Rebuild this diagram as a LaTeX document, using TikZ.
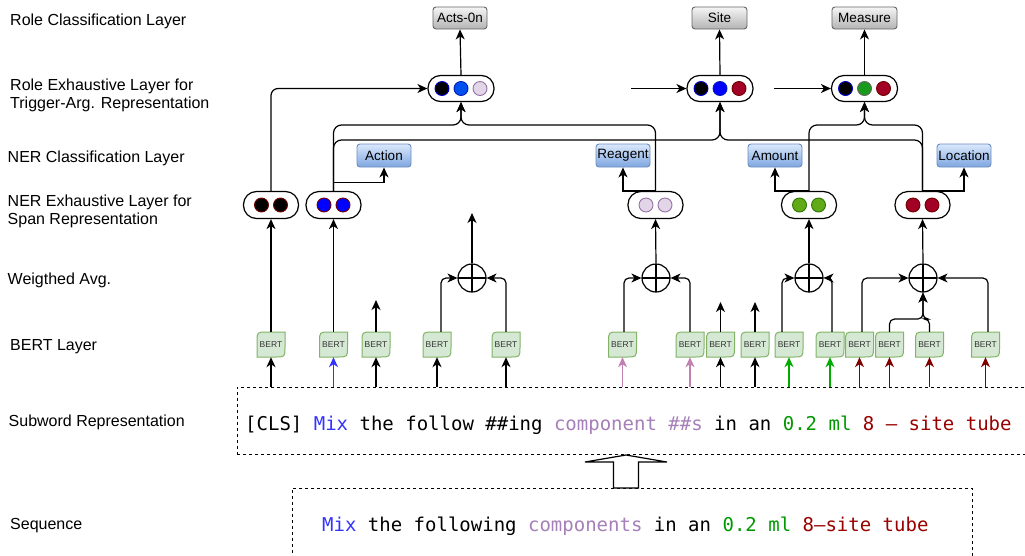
\documentclass[tikz,border=0pt]{standalone}
\usepackage{fontspec}
\setmainfont{Liberation Sans}
\newfontfamily\monofont{DejaVu Sans Mono}
\usetikzlibrary{arrows.meta,calc}
\definecolor{mixblue}{HTML}{3333FF}
\definecolor{comppurple}{HTML}{A680B8}
\definecolor{mlgreen}{HTML}{009900}
\definecolor{sitered}{HTML}{990000}
\definecolor{arrpink}{HTML}{C080B0}
\definecolor{arrgreen}{HTML}{00AA00}
\definecolor{arrred}{HTML}{800000}
\definecolor{bertfill}{HTML}{D5E8D4}
\definecolor{bertline}{HTML}{82B366}
\definecolor{berttxt}{HTML}{333333}
\definecolor{grayline}{HTML}{666666}
\definecolor{graytop}{HTML}{F5F5F5}
\definecolor{graybot}{HTML}{B3B3B3}
\definecolor{bluetop}{HTML}{DAE8FC}
\definecolor{bluebot}{HTML}{7EA6E0}
\definecolor{blueline}{HTML}{6C8EBF}
\definecolor{cblue}{HTML}{0050EF}
\definecolor{cbluel}{HTML}{001DBC}
\definecolor{cpur}{HTML}{E1D5E7}
\definecolor{cpurl}{HTML}{9673A6}
\definecolor{cred}{HTML}{A20025}
\definecolor{credl}{HTML}{6F0000}
\definecolor{cgreen}{HTML}{1A9A1A}
\definecolor{cgreenner}{HTML}{60A917}
\definecolor{cgreenl}{HTML}{2D7600}
\definecolor{cblk}{HTML}{0000CC}
\definecolor{nblue}{HTML}{0000FF}
\tikzset{
  arr/.style={-{Stealth[length=10pt,width=9pt,inset=3pt]}, line width=1.2pt},
  layerlbl/.style={anchor=base west, inner sep=0pt, font=\fontsize{16}{18}\selectfont},
  rolecls/.style={draw=grayline, line width=0.9pt, rounded corners=3pt, top color=graytop, bottom color=graybot, minimum height=22, inner sep=0pt, font=\fontsize{13.5}{15}\selectfont},
  nercls/.style={draw=blueline, line width=0.9pt, rounded corners=3pt, top color=bluetop, bottom color=bluebot, minimum width=54, minimum height=23, inner sep=0pt, font=\fontsize{13.5}{15}\selectfont},
  rolepill/.style={draw, line width=1.2pt, fill=white, rounded corners=12.5pt, minimum width=66, minimum height=26, inner sep=0pt},
  nerpill/.style={draw, line width=1.2pt, fill=white, rounded corners=13pt, minimum width=55, minimum height=27, inner sep=0pt},
  dot/.style={line width=0.9pt},
  oplus/.style={circle, draw, line width=1.2pt, minimum size=28, inner sep=0pt,
    path picture={\draw[line width=1.2pt] (path picture bounding box.north) -- (path picture bounding box.south) (path picture bounding box.west) -- (path picture bounding box.east);}},
  berttext/.style={minimum width=28, minimum height=25, inner sep=0pt, text=berttxt, font=\fontsize{8.5}{9}\selectfont},
  bertshape/.style={fill=bertfill, draw=bertline, line width=1pt},
  dbox/.style={draw, dash pattern=on 3pt off 3pt, line width=1pt, inner sep=0pt},
  mono/.style={anchor=base west, inner sep=0pt, font=\monofont\fontsize{19}{22}\selectfont}
}
\newcommand\bertbox[2]{%
  \draw[bertshape] (#2-14,357) -- (#2-14,342) .. controls (#2-14,332) .. (#2-4,332) -- (#2+14,332) -- (#2+14,347) .. controls (#2+14,357) .. (#2+4,357) -- cycle;
  \node[berttext] (#1) at (#2,344.5) {BERT};}
\begin{document}
\begin{tikzpicture}[x=1pt,y=-1pt]
\useasboundingbox[fill=white] (0,0) rectangle (1025,555);

% layer labels
\node[layerlbl] (l1) at (10,25.5) {Role Classification Layer};
\node[layerlbl] (l2a) at (10,90.5) {Role Exhaustive Layer for};
\node[layerlbl] (l2b) at (10,108.5) {Trigger-Arg. Representation};
\node[layerlbl] (l3) at (7.5,162) {NER Classification Layer};
\node[layerlbl] (l4a) at (7.5,206) {NER Exhaustive Layer for};
\node[layerlbl] (l4b) at (7.5,224.5) {Span Representation};
\node[layerlbl] (l5) at (7.5,284) {Weigthed Avg.};
\node[layerlbl] (l6) at (10,350) {BERT Layer};
\node[layerlbl] (l7) at (8.5,426.5) {Subword Representation};
\node[layerlbl] (l8) at (10,529) {Sequence};

% role classification boxes
\node[rolecls, minimum width=54] (acts) at (460,18) {Acts-0n};
\node[rolecls, minimum width=55] (site) at (719.5,18) {Site};
\node[rolecls, minimum width=65] (measure) at (864.5,18) {Measure};

% role pills
\node[rolepill] (r1) at (461,88.5) {};
\node[rolepill] (r2) at (720,88.5) {};
\node[rolepill] (r3) at (864.5,88.5) {};
\draw[dot, fill=black, draw=cblk] (442,88.5) circle (7);
\draw[dot, fill=cblue, draw=cbluel] (461,88.5) circle (7);
\draw[dot, fill=cpur, draw=cpurl] (480,88.5) circle (7);
\draw[dot, fill=black, draw=cblk] (701,88.5) circle (7);
\draw[dot, fill=nblue, draw=cbluel] (720,88.5) circle (7);
\draw[dot, fill=cred, draw=credl] (739,88.5) circle (7);
\draw[dot, fill=black, draw=cblk] (845.5,88.5) circle (7);
\draw[dot, fill=cgreen, draw=grayline] (864.5,88.5) circle (7);
\draw[dot, fill=cred, draw=credl] (883.5,88.5) circle (7);

% NER classification boxes
\node[nercls] (action) at (384,155.5) {Action};
\node[nercls] (reagent) at (623,155.5) {Reagent};
\node[nercls] (amount) at (775,155.5) {Amount};
\node[nercls] (location) at (964,155.5) {Location};

% NER pills
\node[nerpill] (n1) at (271,205) {};
\node[nerpill] (n2) at (333.5,205) {};
\node[nerpill] (n3) at (655.5,205) {};
\node[nerpill] (n4) at (809,205) {};
\node[nerpill] (n5) at (922.5,205) {};
\draw[dot, fill=black, draw=credl] (261.5,205) circle (7);
\draw[dot, fill=black, draw=credl] (280.5,205) circle (7);
\draw[dot, fill=nblue, draw=credl] (324,205) circle (7);
\draw[dot, fill=nblue, draw=credl] (343,205) circle (7);
\draw[dot, fill=cpur, draw=cpurl] (646,205) circle (7);
\draw[dot, fill=cpur, draw=cpurl] (665,205) circle (7);
\draw[dot, fill=cgreenner, draw=cgreenl] (799.5,205) circle (7);
\draw[dot, fill=cgreenner, draw=cgreenl] (818.5,205) circle (7);
\draw[dot, fill=cred, draw=credl] (913,205) circle (7);
\draw[dot, fill=cred, draw=credl] (932,205) circle (7);

% weighted average
\node[oplus] (o1) at (472,278) {};
\node[oplus] (o2) at (656,278) {};
\node[oplus] (o3) at (809,278) {};
\node[oplus] (o4) at (923,278) {};

% BERT boxes
\bertbox{b1}{271}
\bertbox{b2}{333.5}
\bertbox{b3}{376}
\bertbox{b4}{437}
\bertbox{b5}{506}
\bertbox{b6}{622.5}
\bertbox{b7}{690}
\bertbox{b8}{720.5}
\bertbox{b9}{755}
\bertbox{b10}{789}
\bertbox{b11}{830}
\bertbox{b12}{859.5}
\bertbox{b13}{889.5}
\bertbox{b14}{929.5}
\bertbox{b15}{985.5}

% dashed boxes
\node[dbox, minimum width=795, minimum height=67] (sub) at (634.5,420.5) {};
\node[dbox, minimum width=680, minimum height=72] (seq) at (632,524) {};
\node[mono] (subtxt) at (245,430) {[CLS] {\color{mixblue}Mix} the follow \#\#ing {\color{comppurple}component \#\#s} in an {\color{mlgreen}0.2 ml} {\color{sitered}8 – site tube}};
\node[mono] (seqtxt) at (322,531.5) {{\color{mixblue}Mix} the following {\color{comppurple}components} in an {\color{mlgreen}0.2 ml} {\color{sitered}8–site tube}};

% big hollow arrow
\draw[line width=1.2pt, fill=white] (613.5,488) -- (613.5,462) -- (585,462) -- (626,455) -- (667,462) -- (638.5,462) -- (638.5,488) -- cycle;

% role layer connectors
\draw[arr] (r1.north) -- (acts.south);
\draw[arr] (r2.north) -- (site.south);
\draw[arr] (r3.north) -- (measure.south);
\coordinate (f1) at (631,88.5);
\coordinate (f2) at (774,88.5);
\draw[arr] (f1) -- (r2.west);
\draw[arr] (f2) -- (r3.west);
\draw[arr, rounded corners=7pt] (n1.north) |- (r1.west);
\draw[arr, rounded corners=8pt] (n2.north) -- (333.5,125) -- (461,125) -- (r1.south);
\draw[arr, rounded corners=8pt] (n3.north) -- (655.5,125) -- (461,125) -- (r1.south);
\draw[arr, rounded corners=8pt] (n2.north) -- (333.5,140) -- (720,140) -- (r2.south);
\draw[arr, rounded corners=8pt] (n5.north) -- (922.5,140) -- (720,140) -- (r2.south);
\draw[arr, rounded corners=8pt] (n4.north) -- (809,125) -- (864.5,125) -- (r3.south);
\draw[arr, rounded corners=8pt] (n5.north) -- (922.5,125) -- (864.5,125) -- (r3.south);

% NER classification connectors
\draw[arr] ($(n2.north)+(0,-8.5)$) -| (action.south);
\draw[arr] (n3.north) -| (reagent.south);
\draw[arr] (n4.north) -| (amount.south);
\draw[arr] (n5.north) -| (location.south);

% weighted avg to NER
\coordinate (f3) at (472,213);
\draw[arr] (o1.north) -- (f3);
\draw[arr] (o2.north) -- (n3.south);
\draw[arr] (o3.north) -- (n4.south);
\draw[arr] (o4.north) -- (n5.south);

% BERT outputs
\draw[arr] (b1.north) -- (n1.south);
\draw[arr] (b2.north) -- (n2.south);
\coordinate (f4) at (376,300);
\coordinate (f5) at (720.5,302);
\coordinate (f6) at (755,302);
\draw[arr] (b3.north) -- (f4);
\draw[arr] (b8.north) -- (f5);
\draw[arr] (b9.north) -- (f6);
\draw[arr, rounded corners=5pt] ($(b4.north)+(4,0)$) |- (o1.west);
\draw[arr, rounded corners=5pt] (b5.north) |- (o1.east);
\draw[arr, rounded corners=5pt] ($(b6.north)+(1.5,0)$) |- (o2.west);
\draw[arr, rounded corners=5pt] (b7.north) |- (o2.east);
\draw[arr, rounded corners=5pt] ($(b10.north)+(-7,0)$) |- (o3.west);
\draw[arr, rounded corners=5pt] ($(b11.north)+(2,0)$) |- (o3.east);
\draw[arr, rounded corners=5pt] ($(b12.north)+(2.5,0)$) |- (o4.west);
\draw[arr, rounded corners=5pt] (b13.north) |- (923,319) -- (o4.south);
\draw[arr, rounded corners=5pt] (b14.north) |- (923,319) -- (o4.south);
\draw[arr, rounded corners=5pt] ($(b15.north)+(2.5,0)$) |- (o4.east);

% inputs to BERT
\draw[arr] (b1.south |- sub.north) -- (b1.south);
\draw[arr, mixblue] (b2.south |- sub.north) -- (b2.south);
\draw[arr] (b3.south |- sub.north) -- (b3.south);
\draw[arr] (b4.south |- sub.north) -- (b4.south);
\draw[arr] (b5.south |- sub.north) -- (b5.south);
\draw[arr, arrpink] (b6.south |- sub.north) -- (b6.south);
\draw[arr, arrpink] (b7.south |- sub.north) -- (b7.south);
\draw[arr] (b8.south |- sub.north) -- (b8.south);
\draw[arr] (b9.south |- sub.north) -- (b9.south);
\draw[arr, arrgreen] (b10.south |- sub.north) -- (b10.south);
\draw[arr, arrgreen] (b11.south |- sub.north) -- (b11.south);
\draw[arr, arrred] (b12.south |- sub.north) -- (b12.south);
\draw[arr, arrred] (b13.south |- sub.north) -- (b13.south);
\draw[arr, arrred] (b14.south |- sub.north) -- (b14.south);
\draw[arr, arrred] (b15.south |- sub.north) -- (b15.south);
\end{tikzpicture}
\end{document}
